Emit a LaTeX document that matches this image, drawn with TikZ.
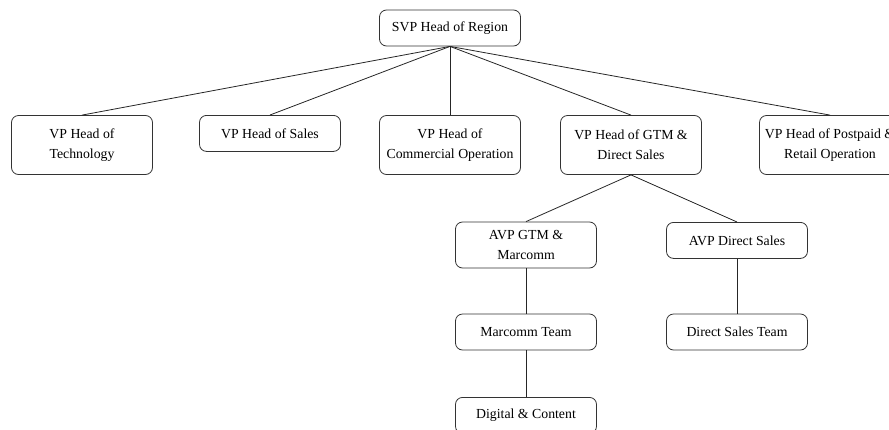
\documentclass[tikz,border=0pt]{standalone}
\usepackage{fontspec}
\setmainfont{Liberation Serif}
\usetikzlibrary{positioning}
\tikzset{
  unit/.style={draw=black!80, line width=0.8pt, rounded corners=7pt, align=center, fill=white,
    minimum width=141pt, inner sep=2pt, font=\fontsize{13.8}{20}\selectfont},
  tall/.style={unit, minimum height=59pt},
  short/.style={unit, minimum height=36pt},
  mid/.style={unit, minimum height=46pt},
  link/.style={draw=black!85, line width=0.8pt}
}
\begin{document}
\begin{tikzpicture}[x=1pt, y=-1pt]
    \useasboundingbox (0,0) rectangle (889,429);
    \clip (0,0) rectangle (889,429);
    % top level
    \node[short] (svp) at (450,28) {SVP Head of Region};
    % vice presidents
    \node[tall] (tech) at (82,145) {VP Head of\\Technology};
    \node[short, anchor=north] (sales) at (270,115) {VP Head of Sales};
    \node[tall] (comm) at (450,145) {VP Head of\\Commercial Operation};
    \node[tall] (gtm) at (631,145) {VP Head of GTM \&\\Direct Sales};
    \node[tall] (post) at (830,145) {VP Head of Postpaid \&\\Retail Operation};
    % under GTM
    \node[mid] (avpgtm) at (526,245) {AVP GTM \&\\Marcomm};
    \node[short, anchor=north] (avpds) at (737,222) {AVP Direct Sales};
    \node[short] (mteam) at (526,332) {Marcomm Team};
    \node[short] (dsteam) at (737,332) {Direct Sales Team};
    \node[short, anchor=north] (digital) at (526,397) {Digital \& Content};
    \foreach \n in {tech, sales, comm, gtm, post}
        \draw[link] (svp.south) -- (\n.north);
    \draw[link] (gtm.south) -- (avpgtm.north);
    \draw[link] (gtm.south) -- (avpds.north);
    \draw[link] (avpgtm) -- (mteam);
    \draw[link] (mteam) -- (digital);
    \draw[link] (avpds) -- (dsteam);
\end{tikzpicture}
\end{document}
